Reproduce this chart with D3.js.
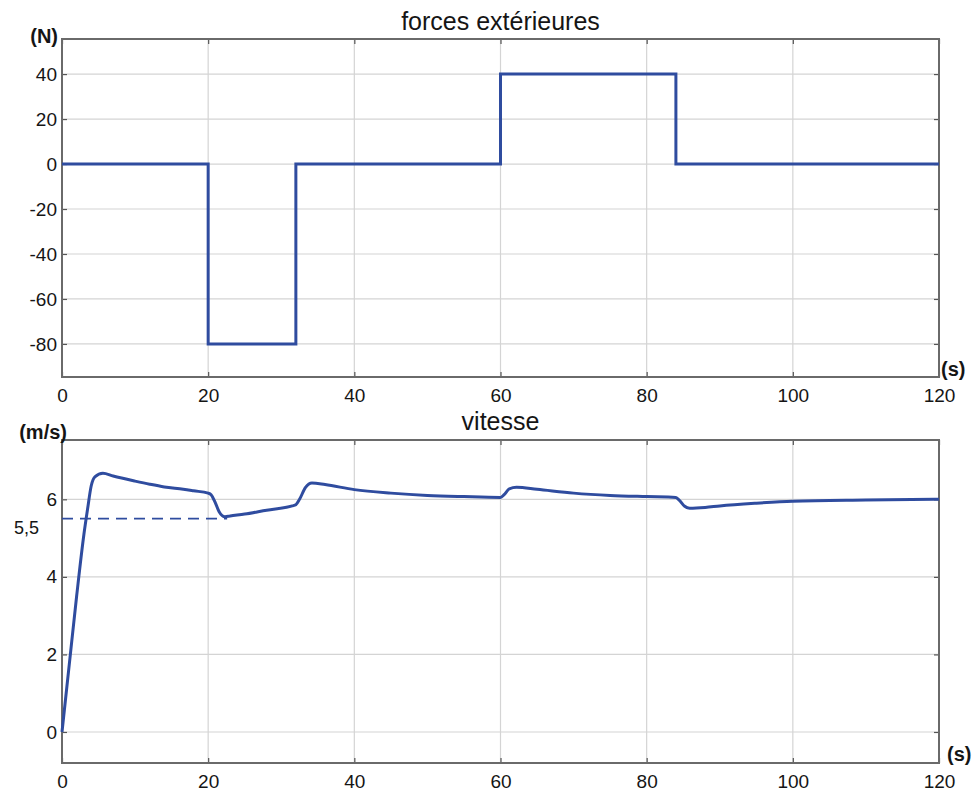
<!DOCTYPE html>
<html>
<head>
<meta charset="utf-8">
<script src="https://cdn.jsdelivr.net/npm/d3@7"></script>
<style>
  body { margin: 0; background: #fff; }
  svg { display: block; font-family: "Liberation Sans", Arial, sans-serif; }
</style>
</head>
<body>
<svg id="chart" width="979" height="799"></svg>
<script>
// ---- data ----
const xTicks = [0, 20, 40, 60, 80, 100, 120];
const forceTicks = [-80, -60, -40, -20, 0, 20, 40];
const speedTicks = [0, 2, 4, 6];

// forces extérieures (step function: value holds until next time)
const forceTime  = [0, 20, 32, 60, 84, 120];
const forceValue = [0, -80, 0, 40, 0, 0];

// vitesse
const speedTime  = [0, 1, 2, 3, 3.5, 4, 4.5, 5.6, 7, 10, 12, 14, 16.6, 18, 20, 20.4, 21, 21.5, 22.3, 23, 25, 28, 31.5, 32, 32.5, 33.3, 34.2, 36, 40, 45, 50, 55, 60, 60.5, 61.2, 62.2, 65, 70, 75, 80, 84, 84.5, 85.2, 85.9, 88, 90, 95, 100, 110, 120];
const speedValue = [0, 1.75, 3.5, 5.1, 5.75, 6.35, 6.58, 6.67, 6.6, 6.47, 6.39, 6.32, 6.26, 6.22, 6.16, 6.12, 5.9, 5.68, 5.55, 5.57, 5.62, 5.72, 5.83, 5.86, 6.0, 6.3, 6.42, 6.38, 6.25, 6.16, 6.1, 6.07, 6.05, 6.12, 6.27, 6.31, 6.26, 6.16, 6.1, 6.07, 6.05, 5.97, 5.82, 5.77, 5.79, 5.83, 5.9, 5.95, 5.98, 6.0];

const refSpeed = 5.5;
const refSpeedLabel = "5,5";
const refSpeedEnd = 22.6;

// ---- drawing ----
const svg = d3.select("#chart");
const lineColor = "#2f4c9f";
const frameColor = "#6a6a6a";
const gridColor = "#d4d4d4";
const textColor = "#151515";

const left = 62, right = 939;
const x = d3.scaleLinear().domain([0, 120]).range([left, right]);
const fmt = d => String(d);

function panel(top, bottom, yDomain, yTicks, title, yUnit, yUnitX, yUnitY, titleY, sX, sY) {
  const y = d3.scaleLinear().domain(yDomain).range([bottom, top]);
  const g = svg.append("g");

  // grid
  g.append("g").selectAll("line").data(xTicks.filter(d => d > 0 && d < 120)).join("line")
    .attr("x1", d => x(d)).attr("x2", d => x(d)).attr("y1", top).attr("y2", bottom)
    .attr("stroke", gridColor).attr("stroke-width", 1.2);
  g.append("g").selectAll("line").data(yTicks).join("line")
    .attr("x1", left).attr("x2", right).attr("y1", d => y(d)).attr("y2", d => y(d))
    .attr("stroke", gridColor).attr("stroke-width", 1.2);

  // axes
  const ax = g.append("g").attr("transform", `translate(0,${bottom})`)
    .call(d3.axisBottom(x).tickValues(xTicks).tickSize(-5).tickPadding(12).tickFormat(fmt));
  const ay = g.append("g").attr("transform", `translate(${left},0)`)
    .call(d3.axisLeft(y).tickValues(yTicks).tickSize(-5).tickPadding(5).tickFormat(fmt));
  const axt = g.append("g").attr("transform", `translate(0,${top})`)
    .call(d3.axisTop(x).tickValues(xTicks).tickSize(-5).tickFormat(""));
  const ayr = g.append("g").attr("transform", `translate(${right},0)`)
    .call(d3.axisRight(y).tickValues(yTicks).tickSize(-5).tickFormat(""));
  [ax, ay, axt, ayr].forEach(a => {
    a.select(".domain").remove();
    a.selectAll(".tick line").attr("stroke", "#555").attr("stroke-width", 1.2);
    a.selectAll(".tick text").attr("fill", textColor).style("font-size", "19px");
  });

  // frame
  g.append("rect").attr("x", left).attr("y", top).attr("width", right - left).attr("height", bottom - top)
    .attr("fill", "none").attr("stroke", frameColor).attr("stroke-width", 2);

  // title
  g.append("text").attr("x", (left + right) / 2).attr("y", titleY).attr("text-anchor", "middle")
    .attr("fill", textColor).style("font-size", "25px").text(title);
  // unit labels
  g.append("text").attr("x", yUnitX).attr("y", yUnitY).attr("text-anchor", "end")
    .attr("fill", textColor).style("font-size", "20px").style("font-weight", "bold").text(yUnit);
  g.append("text").attr("x", sX).attr("y", sY)
    .attr("fill", textColor).style("font-size", "20px").style("font-weight", "bold").text("(s)");
  return { g, y };
}

// top panel: forces
const p1 = panel(39, 377, [-94.7, 55.6], forceTicks, "forces extérieures", "(N)", 58, 43, 30, 941, 376);
const forceData = forceTime.map((t, i) => [t, forceValue[i]]);
p1.g.append("path").datum(forceData)
  .attr("fill", "none").attr("stroke", lineColor).attr("stroke-width", 3)
  .attr("d", d3.line().x(d => x(d[0])).y(d => p1.y(d[1])).curve(d3.curveStepAfter));

// bottom panel: vitesse
const p2 = panel(440, 763, [-0.8, 7.53], speedTicks, "vitesse", "(m/s)", 67, 439, 430, 947, 761);

// reference dashed line 5,5
p2.g.append("line")
  .attr("x1", x(0)).attr("x2", x(refSpeedEnd)).attr("y1", p2.y(refSpeed)).attr("y2", p2.y(refSpeed))
  .attr("stroke", lineColor).attr("stroke-width", 1.8).attr("stroke-dasharray", "11,7");
p2.g.append("text").attr("x", 14).attr("y", p2.y(refSpeed) + 15)
  .attr("fill", textColor).style("font-size", "18px").text(refSpeedLabel);

const speedData = speedTime.map((t, i) => [t, speedValue[i]]);
p2.g.append("path").datum(speedData)
  .attr("fill", "none").attr("stroke", lineColor).attr("stroke-width", 3).attr("stroke-linejoin", "round")
  .attr("d", d3.line().x(d => x(d[0])).y(d => p2.y(d[1])).curve(d3.curveMonotoneX));
</script>
</body>
</html>
